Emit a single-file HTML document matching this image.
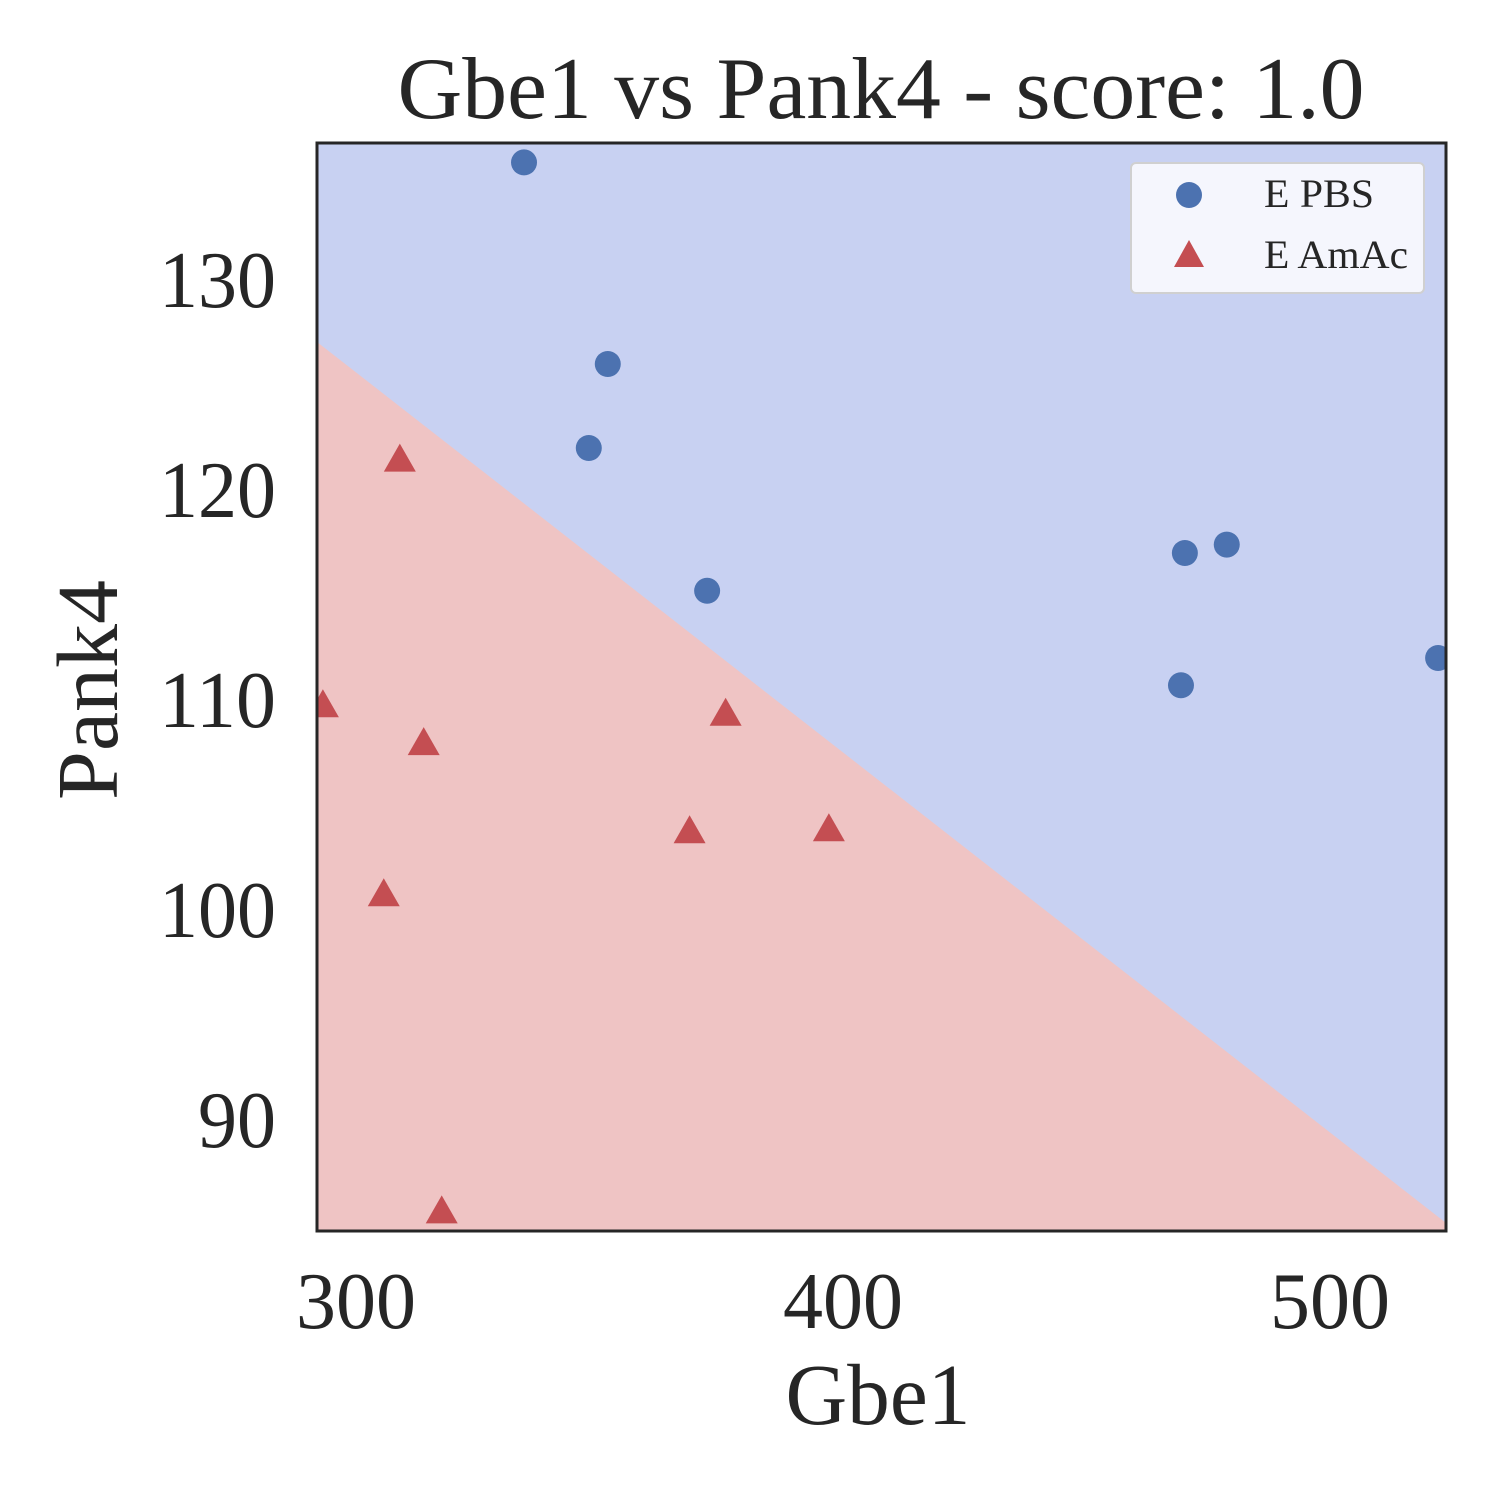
<!DOCTYPE html>
<html><head><meta charset="utf-8"><style>
html,body{margin:0;padding:0;background:#fff;}
svg text{font-family:"Liberation Serif",serif;fill:#262626;}
</style></head><body>
<svg id="chart" width="1500" height="1500" xmlns="http://www.w3.org/2000/svg">
<text x="881" y="118" font-size="88" text-anchor="middle" textLength="967" lengthAdjust="spacingAndGlyphs">Gbe1 vs Pank4 - score: 1.0</text>
<defs><clipPath id="clip"><rect x="317" y="143" width="1129" height="1088"/></clipPath></defs>
<g id="plot" clip-path="url(#clip)"></g>
<rect x="317" y="143" width="1129" height="1088" fill="none" stroke="#262626" stroke-width="3"/>
<g id="xticks"></g><g id="yticks"></g>
<text x="878" y="1424" font-size="87" text-anchor="middle" textLength="185" lengthAdjust="spacingAndGlyphs">Gbe1</text>
<text transform="translate(117,690) rotate(-90)" font-size="87" text-anchor="middle" textLength="220" lengthAdjust="spacingAndGlyphs">Pank4</text>
<g>
<rect x="1131" y="163" width="293" height="130" rx="5" fill="#f5f6fd" stroke="#d0d0d0" stroke-width="2"/>
<circle cx="1189" cy="195" r="13" fill="#4c72b0"/>
<text x="1264" y="207" font-size="40" textLength="110" lengthAdjust="spacingAndGlyphs">E PBS</text>
<polygon points="1189,240 1204,267 1174,267" fill="#c44e52"/>
<text x="1264" y="268" font-size="40" textLength="144" lengthAdjust="spacingAndGlyphs">E AmAc</text>
</g>
</svg>
<script>
const pbsX=[334.5,351.7,347.8,372.1,470.2,478.8,469.4,522.2];
const pbsY=[135.6,126.0,122.0,115.2,117.0,117.4,110.7,112.0];
const amacX=[309.0,293.2,313.9,375.9,368.5,397.1,305.7,317.6];
const amacY=[121.4,109.7,107.9,109.3,103.7,103.8,100.7,85.6];
const boundaryX=[292,523.8];
const boundaryY=[127.05,85.1];
const xTicks=[300,400,500];
const yTicks=[90,100,110,120,130];
const NS='http://www.w3.org/2000/svg';
const xs=v=>356+(v-300)*4.87;
const ys=v=>280+(130-v)*21;
const plot=document.getElementById('plot');
function mk(tag,attrs,parent){const e=document.createElementNS(NS,tag);for(const k in attrs)e.setAttribute(k,attrs[k]);parent.appendChild(e);return e;}
mk('rect',{x:317,y:143,width:1129,height:1088,fill:'#c8d1f2'},plot);
const x0=xs(boundaryX[0]),y0=ys(boundaryY[0]),x1=xs(boundaryX[1]),y1=ys(boundaryY[1]);
const pink=mk('polygon',{points:`${x0},${y0} ${x1},${y1} ${x1},1240 ${x0},1240`,fill:'#efc4c4'},plot);


pbsX.forEach((v,i)=>{const c=mk('circle',{cx:xs(v),cy:ys(pbsY[i]),r:13,fill:'#4c72b0'},plot);

});
amacX.forEach((v,i)=>{const cx=xs(v),cy=ys(amacY[i]);const t=mk('polygon',{points:`${cx},${cy-17} ${cx+16},${cy+11} ${cx-16},${cy+11}`,fill:'#c44e52'},plot);

});
const xt=document.getElementById('xticks');
xTicks.forEach(v=>{const t=mk('text',{x:xs(v),y:1328,'font-size':80,'text-anchor':'middle',textLength:120,lengthAdjust:'spacingAndGlyphs'},xt);t.textContent=v;

});
const yt=document.getElementById('yticks');
yTicks.forEach(v=>{const len=String(v).length*39;const t=mk('text',{x:276,y:ys(v)+27,'font-size':80,'text-anchor':'end',textLength:len,lengthAdjust:'spacingAndGlyphs'},yt);t.textContent=v;

});
</script>
</body></html>
